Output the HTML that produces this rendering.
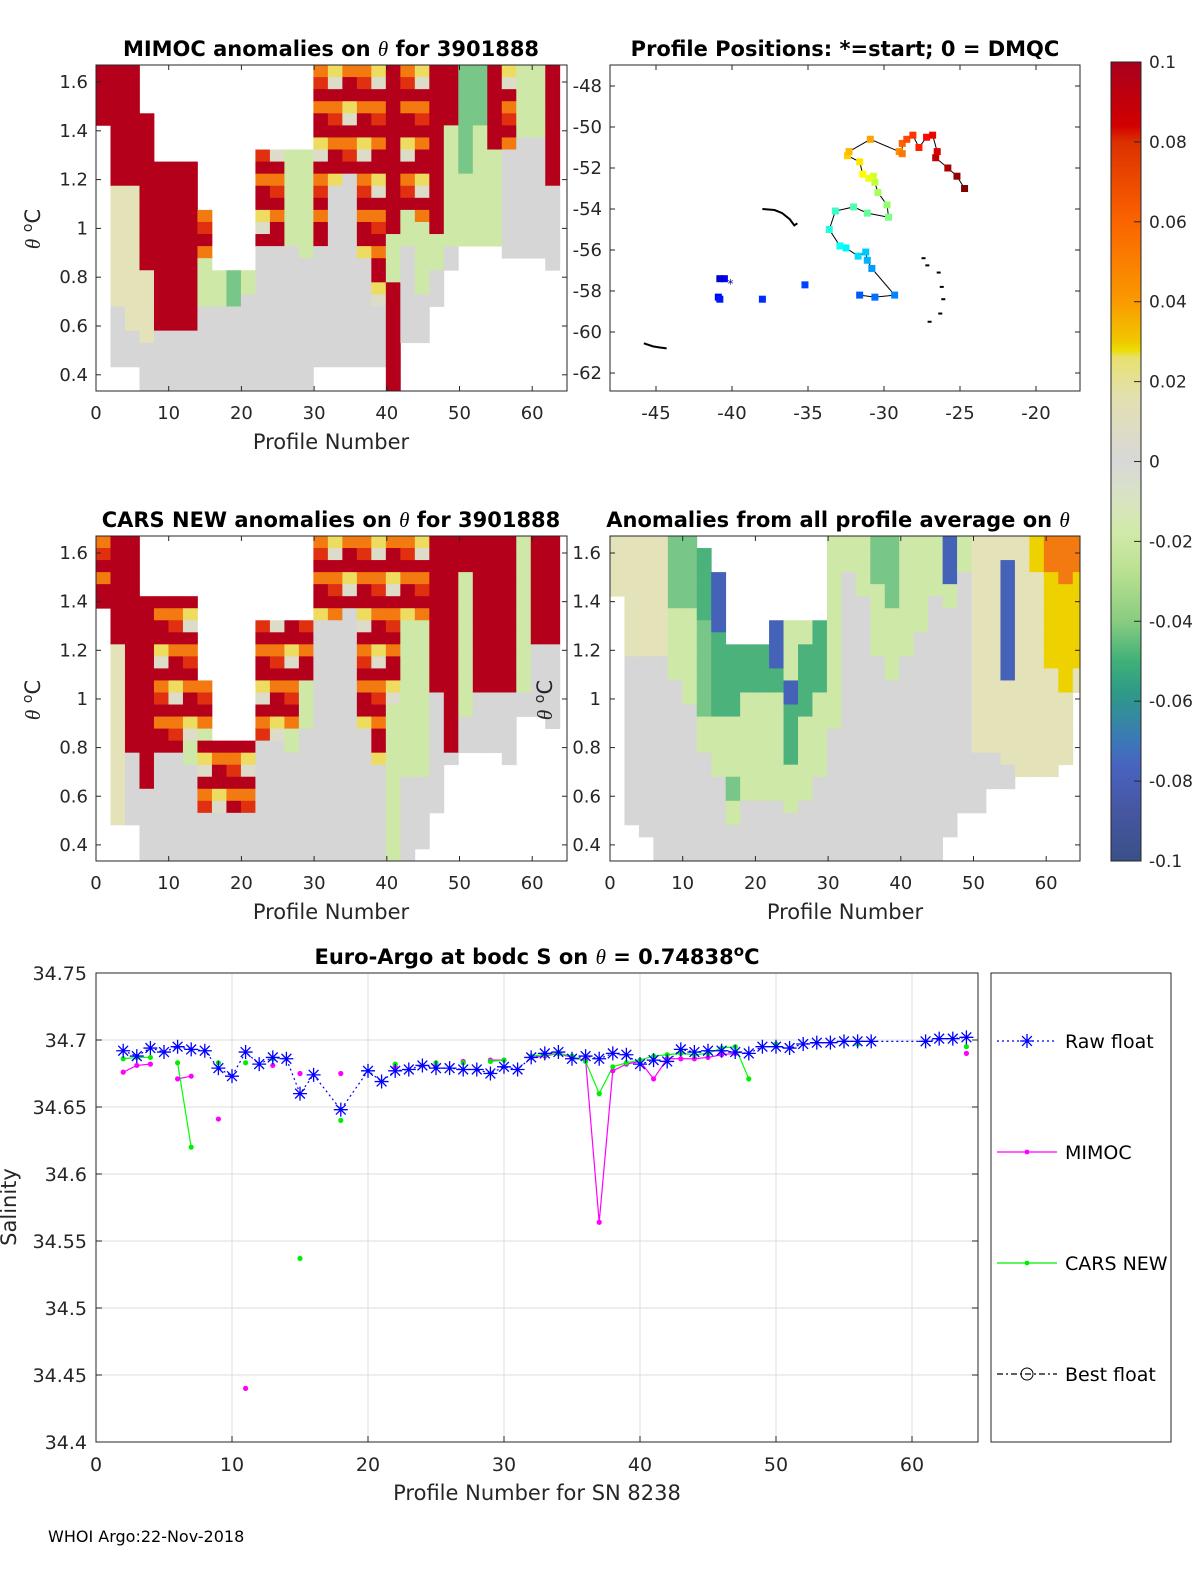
<!DOCTYPE html>
<html><head><meta charset="utf-8"><style>
html,body{margin:0;padding:0;background:#fff;}
svg{display:block;font-family:"DejaVu Sans","Liberation Sans",sans-serif;}
</style></head><body>
<svg id="fig" width="1200" height="1575" viewBox="0 0 1200 1575" xmlns="http://www.w3.org/2000/svg">
<defs>
<linearGradient id="cmap" x1="0" y1="0" x2="0" y2="1">
<stop offset="0" stop-color="#a8001e"/><stop offset="0.08" stop-color="#d20000"/><stop offset="0.1" stop-color="#dc3000"/>
<stop offset="0.2" stop-color="#fa6400"/><stop offset="0.3" stop-color="#fa9a00"/><stop offset="0.35" stop-color="#f0c800"/>
<stop offset="0.36" stop-color="#ecdc00"/><stop offset="0.37" stop-color="#e8e070"/><stop offset="0.42" stop-color="#e2e0b0"/>
<stop offset="0.5" stop-color="#d8d8d8"/><stop offset="0.55" stop-color="#d8e4c0"/><stop offset="0.59" stop-color="#d0eaa8"/>
<stop offset="0.64" stop-color="#b8e090"/><stop offset="0.7" stop-color="#88cc80"/><stop offset="0.75" stop-color="#40b078"/>
<stop offset="0.79" stop-color="#2e9a88"/><stop offset="0.85" stop-color="#3c78b8"/><stop offset="0.88" stop-color="#4864c0"/>
<stop offset="0.94" stop-color="#4656a0"/><stop offset="1" stop-color="#3a5088"/>
</linearGradient>
</defs>
<g id="layer"></g>
</svg>
<script>
// ---------- bottom chart data ----------
const rawProf = [2,3,4,5,6,7,8,9,10,11,12,13,14,15,16,18,20,21,22,23,24,25,26,27,28,29,30,31,32,33,34,35,36,37,38,39,40,41,42,43,44,45,46,47,48,49,50,51,52,53,54,55,56,57,61,62,63,64];
const rawVal = [34.692,34.688,34.694,34.691,34.695,34.693,34.692,34.679,34.673,34.691,34.682,34.687,34.686,34.660,34.674,34.648,34.677,34.669,34.677,34.678,34.681,34.679,34.679,34.678,34.678,34.675,34.680,34.678,34.687,34.690,34.691,34.686,34.688,34.686,34.690,34.689,34.682,34.685,34.684,34.693,34.691,34.692,34.692,34.691,34.690,34.695,34.695,34.694,34.697,34.698,34.698,34.699,34.699,34.699,34.699,34.701,34.701,34.702];
const mimocProf = [2,3,4,6,7,9,11,13,15,18,22,25,27,29,30,32,33,34,35,36,37,38,39,40,41,42,43,44,45,46,47,64];
const mimocVal = [34.676,34.681,34.682,34.671,34.673,34.641,34.44,34.681,34.675,34.675,34.680,34.681,34.684,34.685,34.685,34.687,34.688,34.690,34.687,34.685,34.564,34.677,34.682,34.684,34.671,34.686,34.686,34.686,34.687,34.689,34.690,34.690];
const carsProf = [2,3,4,6,7,9,11,13,15,18,22,25,27,29,30,32,33,34,35,36,37,38,39,40,41,42,43,44,45,46,47,48,50,56,64];
const carsVal = [34.686,34.687,34.687,34.683,34.620,34.683,34.683,34.686,34.537,34.640,34.682,34.683,34.683,34.684,34.685,34.688,34.689,34.690,34.688,34.684,34.660,34.680,34.683,34.685,34.688,34.689,34.690,34.689,34.690,34.694,34.695,34.671,34.697,34.697,34.695];
const salTicks = [34.4,34.45,34.5,34.55,34.6,34.65,34.7,34.75];
const salTickLabels = ["34.4","34.45","34.5","34.55","34.6","34.65","34.7","34.75"];
const profTicks = [0,10,20,30,40,50,60];
// ---------- map data ----------
const trackLon = [-40.8,-40.5,-40.9,-40.8,-38.0,-35.2,-31.6,-30.6,-29.3,-30.8,-31.1,-31.2,-31.7,-32.5,-32.9,-33.6,-33.2,-32.0,-31.1,-29.7,-29.8,-30.4,-30.6,-30.7,-31.0,-31.4,-31.6,-32.4,-32.3,-30.9,-29.0,-28.8,-28.8,-28.5,-28.1,-27.7,-27.2,-26.8,-26.5,-26.6,-25.8,-25.2,-24.7];
const trackLat = [-57.4,-57.4,-58.3,-58.4,-58.4,-57.7,-58.2,-58.3,-58.2,-56.9,-56.5,-56.1,-56.3,-55.9,-55.8,-55.0,-54.1,-53.9,-54.2,-54.4,-53.8,-53.2,-52.7,-52.4,-52.5,-52.3,-51.7,-51.4,-51.2,-50.6,-51.2,-51.3,-50.8,-50.6,-50.4,-51.0,-50.5,-50.4,-51.2,-51.5,-52.0,-52.4,-53.0];
const sgLon = [-38.0,-37.2,-36.7,-36.2,-35.9,-35.7];
const sgLat = [-54.0,-54.05,-54.2,-54.5,-54.8,-54.7];
const orkLon = [-45.8,-45.2,-44.8,-44.3];
const orkLat = [-60.55,-60.7,-60.75,-60.8];
const sandLon = [-27.4,-27.15,-26.4,-26.2,-26.1,-26.3,-27.0];
const sandLat = [-56.4,-56.75,-57.1,-57.8,-58.4,-59.1,-59.5];
const lonTicks = [-45,-40,-35,-30,-25,-20];
const latTicks = [-48,-50,-52,-54,-56,-58,-60,-62];
const thetaTicks = [0.4,0.6,0.8,1,1.2,1.4,1.6];
// ---------- heatmap data (run-length columns, 2 profiles x 0.05 degC cells, top row first) ----------
const mimocCols = ["R5W22","R10S7S3g5W2","R10S12g3W2","W4R13S6g4","W8R14g5","W8R14g5","W8R14g5","W12M4L4g7","W17L3g7","W17G3g7","W17L2g8","W7M8g12","W7M8g12","W7L8g12","W7L9g11","M15g10W2","M10g15W2","M9g16W2","M16g9W2","M20g5W2","R14L4R9","M12L3g8W4","M13L6g4W4","R14L3g3W7","R5L10g2W10","G9L6W12","G5L10W12","R7L8W12","M7g9W11","L6g10W11","L6g10W11","R10g7W10","W27"];
const carsCols = ["M6W21","R9S15W3","R18g6W3","W5R16g6","W5M13g9","W5M13g9","W5M12L2g8","W12M4L1M6g4","W17M6g4","W17M6g4","W17M6g4","W7M10g10","W7M10g10","W7M9L2g9","W7M5L4g11","M7g20","M7g20","M6g21","M16g11","M19g8","M14L13","M7L13g7","M7L13g6W1","R13g10W4","R18g1W8","R3L12g3W9","R13g5W9","R13g5W9","R13g6W8","L13g2W12","R9g6W12","R9g7W11","W27"];
const avgCols = ["S5W22","S10g14W3","S10g15W2","S10g17","G6L6g15","G6L8g13","W1T6G8L3g9","W3B5T7L5g7","W9T6L5G2L2g3","W9T4L9g5","W9T4L9g5","W7B4T2L9g5","W7L5B2T5L4g4","W7L2T6L7g5","W7T6L7g7","L16g11","L3g24","L5g22","G4L6g17","G6L6g15","L10g17","L8g19","L5g22","B4L2g19W2","L3g20W4","S18g5W4","S18g3W6","S2B10S7g2W6","S20W7","Y3S17W7","O3Y8S9W7","O4Y9S6W8","O3Y8S2W14"];

const NS='http://www.w3.org/2000/svg';
const root=document.getElementById('layer');
function el(tag,attrs,parent,text){const e=document.createElementNS(NS,tag);for(const k in attrs)e.setAttribute(k,attrs[k]);if(text!==undefined)e.textContent=text;(parent||root).appendChild(e);return e;}
function grp(name){const g=document.createElementNS(NS,'g');root.appendChild(g);


return g;}

const COL={R:'#b4001a',O:'#f27a10',Y:'#eed200',S:'#e4e2b8',g:'#d6d6d6',L:'#cee8a8',G:'#78c688',T:'#4cb27c',B:'#4462b8'};
function mixColor(r,c){const k=(r*5+c*3)%9;if(k===0||k===6)return '#f27a10';if(k===3)return '#eedc60';if(k===5)return '#e03010';if(k===8)return '#dcdcc8';return '#b4001a';}

function heatmap(name,cols,x0,y0,w,h){
  const g=grp(name);
  const nRows=27,cw=w/65*2,rh=h/nRows;
  cols.forEach((s,c)=>{
    let r=0;const re=/([A-Za-z])(\d+)/g;let m;
    while((m=re.exec(s))){const code=m[1],n=+m[2];
      for(let i=0;i<n;i++,r++){
        if(code==='W')continue;
        const fill=code==='M'?mixColor(r,c):COL[code];
        const x=x0+c*cw, wdt=Math.min(cw,x0+w-x);
        if(wdt<=0)continue;
        const rc=el('rect',{x:x.toFixed(2),y:(y0+r*rh).toFixed(2),width:(wdt+0.4).toFixed(2),height:(rh+0.4).toFixed(2),fill:fill},g);
        
        
      }}
  });
}

function thetaAxes(name,x0,y0,w,h,leftLabels,labelX){
  const g=grp(name);
  const ty=v=>y0+17+(1.6-v)*244*(h/326);
  const box=el('rect',{x:x0,y:y0,width:w,height:h,fill:'none',stroke:'#262626','stroke-width':1},g);
  
  thetaTicks.forEach(v=>{const y=ty(v);
    el('line',{x1:x0,y1:y,x2:x0+5,y2:y,stroke:'#262626'},g);el('line',{x1:x0+w,y1:y,x2:x0+w-5,y2:y,stroke:'#262626'},g);
    const t=el('text',{x:labelX,y:y+6,'text-anchor':'end','font-size':18,fill:'#262626'},g,String(v));
    });
  profTicks.forEach(p=>{const x=x0+p*7.27;
    el('line',{x1:x,y1:y0+h,x2:x,y2:y0+h-5,stroke:'#262626'},g);el('line',{x1:x,y1:y0,x2:x,y2:y0+5,stroke:'#262626'},g);
    const t=el('text',{x:x,y:y0+h+28,'text-anchor':'middle','font-size':18,fill:'#262626'},g,String(p));
    });
}

// ---------- panels ----------
heatmap('mimoc-heatmap',mimocCols,96,65,471,326);
thetaAxes('mimoc-axes',96,65,471,326,true,88);
heatmap('cars-heatmap',carsCols,96,536,471,325);
thetaAxes('cars-axes',96,536,471,325,true,88);
heatmap('avg-heatmap',avgCols,610,536,470,325);
thetaAxes('avg-axes',610,536,470,325,true,601);

// titles & labels
function txt(name,x,y,size,content,opts){const t=el('text',Object.assign({x:x,y:y,'font-size':size,fill:'#000','text-anchor':'middle'},opts||{}),null);
 t.innerHTML=content;
 
 return t;}
txt('mimoc-title',331,56,21,'MIMOC anomalies on <tspan font-style="italic" font-family="Liberation Serif,serif" font-weight="normal">θ</tspan>  for 3901888',{'font-weight':'bold'});
txt('map-title',845,56,21,'Profile Positions: *=start; 0 = DMQC',{'font-weight':'bold'});
txt('cars-title',331,527,21,'CARS NEW anomalies on <tspan font-style="italic" font-family="Liberation Serif,serif" font-weight="normal">θ</tspan> for 3901888',{'font-weight':'bold'});
txt('avg-title',838,527,21,'Anomalies from all profile average on <tspan font-style="italic" font-family="Liberation Serif,serif" font-weight="normal">θ</tspan>',{'font-weight':'bold'});
txt('mimoc-x-label',331,449,21,'Profile Number',{fill:'#262626'});
txt('cars-x-label',331,919,21,'Profile Number',{fill:'#262626'});
txt('avg-x-label',845,919,21,'Profile Number',{fill:'#262626'});
txt('mimoc-y-label',0,0,21,'<tspan font-style="italic" font-family="Liberation Serif,serif">θ</tspan> <tspan dy="-8" font-size="14">o</tspan><tspan dy="8">C</tspan>',{transform:'translate(40,229) rotate(-90)',fill:'#262626'});
txt('cars-y-label',0,0,21,'<tspan font-style="italic" font-family="Liberation Serif,serif">θ</tspan> <tspan dy="-8" font-size="14">o</tspan><tspan dy="8">C</tspan>',{transform:'translate(40,700) rotate(-90)',fill:'#262626'});
txt('avg-y-label',0,0,21,'<tspan font-style="italic" font-family="Liberation Serif,serif">θ</tspan> <tspan dy="-8" font-size="14">o</tspan><tspan dy="8">C</tspan>',{transform:'translate(552,700) rotate(-90)',fill:'#262626'});

// ---------- map ----------
(function(){
  const g=grp('position-map');
  const X=lon=>656+(lon+45)*15.2, Y=lat=>86+(-48-lat)*20.5;
  const box=el('rect',{x:610,y:65,width:470,height:326,fill:'none',stroke:'#262626'},g);
  
  lonTicks.forEach(v=>{const x=X(v);el('line',{x1:x,y1:391,x2:x,y2:386,stroke:'#262626'},g);el('line',{x1:x,y1:65,x2:x,y2:70,stroke:'#262626'},g);
    const t=el('text',{x:x,y:419,'text-anchor':'middle','font-size':18,fill:'#262626'},g,String(v));
    });
  latTicks.forEach(v=>{const y=Y(v);el('line',{x1:610,y1:y,x2:615,y2:y,stroke:'#262626'},g);el('line',{x1:1080,y1:y,x2:1075,y2:y,stroke:'#262626'},g);
    const t=el('text',{x:602,y:y+6,'text-anchor':'end','font-size':18,fill:'#262626'},g,String(v));
    });
  const coast=(lo,la,nm)=>{const p=el('polyline',{points:lo.map((v,i)=>X(v)+','+Y(la[i])).join(' '),fill:'none',stroke:'#000','stroke-width':2},g);
    };
  coast(sgLon,sgLat,'south-georgia-coast');coast(orkLon,orkLat,'south-orkney-coast');
  sandLon.forEach((v,i)=>{const d=el('rect',{x:X(v)-2,y:Y(sandLat[i])-1,width:4,height:2,fill:'#000'},g);
    });
  const pts=trackLon.map((v,i)=>X(v)+','+Y(trackLat[i])).slice(6).join(' ');
  const tl=el('polyline',{points:pts,fill:'none',stroke:'#000','stroke-width':1},g);
  
  function jet(t){const r=Math.max(0,Math.min(1,1.5-Math.abs(4*t-3))),gg=Math.max(0,Math.min(1,1.5-Math.abs(4*t-2))),b=Math.max(0,Math.min(1,1.5-Math.abs(4*t-1)));
    return 'rgb('+Math.round(r*255)+','+Math.round(gg*255)+','+Math.round(b*255)+')';}
  const n=trackLon.length;
  trackLon.forEach((v,i)=>{const s=el('rect',{x:X(v)-3.5,y:Y(trackLat[i])-3.5,width:7,height:7,fill:jet(0.08+0.92*i/(n-1))},g);
    });
  const st=el('text',{x:X(-40.1),y:Y(-57.6)+5,'font-size':12,fill:'#0000b0','text-anchor':'middle'},g,'*');
  
})();

// ---------- colorbar ----------
(function(){
  const g=grp('colorbar');
  const r=el('rect',{x:1111,y:62,width:30,height:799,fill:'url(#cmap)',stroke:'#262626'},g);
  
  const labs=['0.1','0.08','0.06','0.04','0.02','0','-0.02','-0.04','-0.06','-0.08','-0.1'];
  labs.forEach((l,i)=>{const y=62+i*79.9;
    if(i>0&&i<10)el('line',{x1:1134,y1:y,x2:1141,y2:y,stroke:'#262626'},g);
    const t=el('text',{x:1149,y:y+6,'font-size':17,fill:'#262626'},g,l);
    });
})();

// ---------- salinity chart ----------
(function(){
  const g=grp('salinity-chart');
  const X=p=>96+p*13.6, Y=v=>973+(34.75-v)*1340;
  profTicks.forEach(p=>{if(p>0){const l=el('line',{x1:X(p),y1:973,x2:X(p),y2:1442,stroke:'#dcdcdc'},g);
    }
    el('line',{x1:X(p),y1:1442,x2:X(p),y2:1436,stroke:'#262626'},g);
    const t=el('text',{x:X(p),y:1471,'text-anchor':'middle','font-size':19,fill:'#262626'},g,String(p));
    });
  salTicks.forEach((v,i)=>{const y=Y(v);
    if(i>0&&i<salTicks.length-1){const l=el('line',{x1:96,y1:y,x2:978,y2:y,stroke:'#dcdcdc'},g);
    }
    el('line',{x1:96,y1:y,x2:102,y2:y,stroke:'#262626'},g);el('line',{x1:978,y1:y,x2:972,y2:y,stroke:'#262626'},g);
    const t=el('text',{x:87,y:y+7,'text-anchor':'end','font-size':19,fill:'#262626'},g,salTickLabels[i]);
    });
  const box=el('rect',{x:96,y:973,width:882,height:469,fill:'none',stroke:'#262626'},g);
  
  function series(prof,val,color,name,dash){
    let runs=[],cur=[];
    prof.forEach((p,i)=>{if(cur.length&&(dash||p===prof[i-1]+1)){cur.push(i);}else{if(cur.length)runs.push(cur);cur=[i];}});
    if(cur.length)runs.push(cur);
    runs.forEach(run=>{if(run.length<2)return;
      const l=el('polyline',{points:run.map(i=>X(prof[i])+','+Y(val[i])).join(' '),fill:'none',stroke:color,'stroke-width':1.2},g);
      if(dash)l.setAttribute('stroke-dasharray','2,3');
      });
  }
  series(rawProf,rawVal,'#0000ff','raw-float',true);
  series(mimocProf,mimocVal,'#ff00ff','mimoc',false);
  series(carsProf,carsVal,'#00ff00','cars-new',false);
  mimocProf.forEach((p,i)=>{const c=el('circle',{cx:X(p),cy:Y(mimocVal[i]),r:2.6,fill:'#ff00ff'},g);
    });
  carsProf.forEach((p,i)=>{const c=el('circle',{cx:X(p),cy:Y(carsVal[i]),r:2.6,fill:'#00ee00'},g);
    });
  function star(x,y,s,parent){const d=`M${x-s},${y}H${x+s}M${x},${y-s}V${y+s}M${x-s*0.7},${y-s*0.7}L${x+s*0.7},${y+s*0.7}M${x-s*0.7},${y+s*0.7}L${x+s*0.7},${y-s*0.7}`;
    return el('path',{d:d,stroke:'#0000ff','stroke-width':1.3,fill:'none'},parent);}
  rawProf.forEach((p,i)=>{const s=star(X(p),Y(rawVal[i]),7,g);
    });
  const lg=grp('legend');
  const lb=el('rect',{x:991,y:973,width:180,height:469,fill:'#fff',stroke:'#262626'},lg);
  
  const ent=[['Raw float','#0000ff',1041,'legend-raw-float'],['MIMOC','#ff00ff',1152,'legend-mimoc'],['CARS NEW','#00ee00',1263,'legend-cars-new'],['Best float','#000',1374,'legend-best-float']];
  ent.forEach(e=>{const eg=document.createElementNS(NS,'g');lg.appendChild(eg);
    
    
    const ln=el('line',{x1:997,y1:e[2],x2:1057,y2:e[2],stroke:e[1],'stroke-width':1.2},eg);
    if(e[0]==='Raw float'){ln.setAttribute('stroke-dasharray','2,3');star(1027,e[2],7,eg);}
    else if(e[0]==='Best float'){ln.setAttribute('stroke-dasharray','6,3,2,3');el('circle',{cx:1027,cy:e[2],r:6,fill:'none',stroke:'#000'},eg);}
    else el('circle',{cx:1027,cy:e[2],r:2.4,fill:e[1]},eg);
    el('text',{x:1065,y:e[2]+7,'font-size':19,fill:'#000'},eg,e[0]);});
})();
txt('salinity-title',537,964,21,'Euro-Argo at bodc S on <tspan font-style="italic" font-family="Liberation Serif,serif" font-weight="normal">θ</tspan> = 0.74838<tspan dy="-8" font-size="15">o</tspan><tspan dy="8">C</tspan>',{'font-weight':'bold'});
txt('salinity-x-label',537,1500,21,'Profile Number for SN 8238',{fill:'#262626'});
txt('salinity-y-label',0,0,21,'Salinity',{transform:'translate(16,1207) rotate(-90)',fill:'#262626'});
txt('footer-note',48,1542,16,'WHOI Argo:22-Nov-2018',{'text-anchor':'start'});
</script>
</body></html>
